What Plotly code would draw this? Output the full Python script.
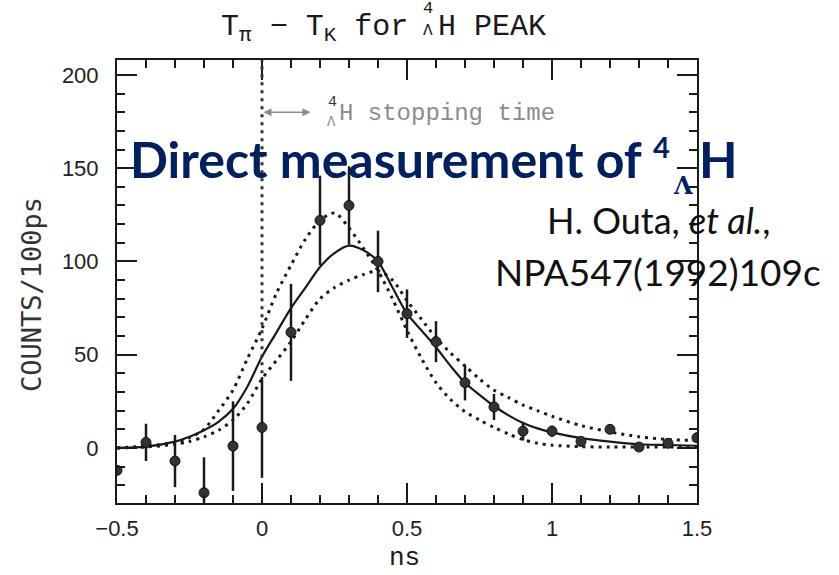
import plotly.graph_objects as go

# ---- measured T_pi - T_K spectrum (counts per 100 ps) ----
t_ns = [-0.5, -0.4, -0.3, -0.2, -0.1, 0.0, 0.1, 0.2, 0.3, 0.4, 0.5,
        0.6, 0.7, 0.8, 0.9, 1.0, 1.1, 1.2, 1.3, 1.4, 1.5]
counts = [-12, 3, -7, -24, 1, 11, 62, 122, 130, 100, 72,
          57, 35, 22, 9, 9, 3.5, 10, 0.5, 2.5, 5.5]
count_err = [0, 10, 14, 19, 24, 27, 26, 24, 21, 16.5, 13,
             11, 9.5, 7, 5, 3, 2, 0, 0, 0, 0]

# ---- curves: best fit (solid) and the two bounding shapes (dotted) ----
curve_t = [-0.5, -0.4, -0.3, -0.25, -0.2, -0.15, -0.1, -0.05, 0.0, 0.05,
           0.1, 0.15, 0.2, 0.25, 0.3, 0.35, 0.4, 0.45, 0.5, 0.55,
           0.6, 0.65, 0.7, 0.75, 0.8, 0.85, 0.9, 0.95, 1.0, 1.1,
           1.2, 1.3, 1.4, 1.5]
fit_counts = [0, 0.7, 3.4, 6, 9.5, 14, 21, 33, 49, 62,
              75, 86, 97, 104.5, 108.5, 106, 100, 86, 72, 63,
              54, 44, 35, 28.5, 22.5, 17.5, 13.4, 10.5, 8.4, 5.3,
              3.4, 2, 1.6, 1.2]
short_counts = [0, 1, 3, 5.5, 10, 20, 31, 48, 64, 83,
                98, 112, 122, 126, 118, 107, 95, 80, 63, 48,
                35, 26, 19.5, 15, 11, 7.5, 4.5, 2.5, 1.5, 0.7,
                0.5, 0.5, 0.5, 0.5]
long_counts = [0, 0.5, 2, 3.5, 6, 9.5, 15, 24, 37, 47,
               57, 69, 80, 86, 90, 93, 95, 90, 79, 69,
               59, 51, 44, 37, 31, 27, 23, 20, 17, 12,
               8.6, 6, 4.5, 4]

x_ticks = [-0.5, 0, 0.5, 1, 1.5]
y_ticks = [0, 50, 100, 150, 200]

INK = "#1a1a1a"
GREY = "#8c8c8c"
NAVY = "#002060"
TYPE = "Liberation Mono"

# plot frame in page pixels, used to place the free text
L, R, T, B = 117, 697, 60, 503
W, H = 839, 575


def fx(xp):
    return (xp - L) / (R - L)


def fy(yp):
    return (B - yp) / (B - T)


def label(xp, yp, text, font, xanchor="center", **kw):
    return dict(xref="paper", yref="paper", x=fx(xp), y=fy(yp), text=text,
                showarrow=False, xanchor=xanchor, yanchor="middle", font=font, **kw)


fig = go.Figure()

dots = "3px,5px"
fig.add_trace(go.Scatter(x=curve_t, y=short_counts, mode="lines",
                         line=dict(color=INK, width=3, dash=dots, shape="spline", smoothing=0.8),
                         hoverinfo="skip", showlegend=False))
fig.add_trace(go.Scatter(x=curve_t, y=long_counts, mode="lines",
                         line=dict(color=INK, width=3, dash=dots, shape="spline", smoothing=0.8),
                         hoverinfo="skip", showlegend=False))
fig.add_trace(go.Scatter(x=curve_t, y=fit_counts, mode="lines",
                         line=dict(color=INK, width=2.2, shape="spline", smoothing=0.8),
                         hoverinfo="skip", showlegend=False))
fig.add_trace(go.Scatter(x=t_ns, y=counts, mode="markers",
                         marker=dict(size=10, color="#333333", line=dict(color="#111111", width=1)),
                         error_y=dict(type="data", array=count_err, width=0, thickness=2.5, color=INK),
                         showlegend=False))

# t = 0 marker line
fig.add_shape(type="line", xref="x", yref="y", x0=0, x1=0, y0=40, y1=208,
              line=dict(color="#333333", width=3, dash=dots), layer="above")

ann = []
# stopping-time arrow and label
ann.append(dict(xref="x", yref="y", axref="x", ayref="y", x=0.167, y=180, ax=0.0, ay=180,
                text="", showarrow=True, arrowhead=2, startarrowhead=2, arrowside="end+start",
                arrowsize=1, arrowwidth=1.6, arrowcolor=GREY, standoff=0, startstandoff=0))
ann.append(label(332, 102, "4", dict(family=TYPE, size=15, color="#333333")))
ann.append(label(331, 122, "Λ", dict(family=TYPE, size=14, color=GREY)))
ann.append(label(337, 114, "H stopping time", dict(family=TYPE, size=24, color=GREY), xanchor="left"))

# chart title
tfont = dict(family=TYPE, size=30, color=INK)
ann.append(label(410, 29, "T<sub>π</sub> − T<sub>K</sub> for", tfont, xanchor="right"))
ann.append(label(428, 9, "4", dict(family=TYPE, size=17, color=INK)))
ann.append(label(428, 31, "Λ", dict(family=TYPE, size=16, color=INK)))
ann.append(label(436, 27, "H PEAK", tfont, xanchor="left"))

# axis titles
ann.append(label(31, 295, "COUNTS/100ps", dict(family="DejaVu Sans Mono", size=27, color="#333333"),
                 textangle=-90))
ann.append(label(404, 558, "ns", dict(family=TYPE, size=26, color=INK)))

# headline and reference
ann.append(label(128, 159, "<b>Direct measurement of</b>", dict(family="Lato", size=50, color=NAVY),
                 xanchor="left"))
ann.append(label(661, 146, "<b>4</b>", dict(family="Lato", size=29, color=NAVY)))
ann.append(label(683, 185, "<b>Λ</b>", dict(family="DejaVu Serif", size=24, color=NAVY)))
ann.append(label(697, 159, "<b>H</b>", dict(family="Lato", size=50, color=NAVY), xanchor="left"))
ann.append(label(658, 220, "H. Outa, <i>et al.</i>,", dict(family="Lato", size=36, color="#111111")))
ann.append(label(658, 271, "NPA547(1992)109c", dict(family="Lato", size=37, color="#111111")))

axis_common = dict(showgrid=False, zeroline=False, showline=True, linewidth=2, linecolor=INK,
                   mirror="ticks", ticks="inside", ticklen=20, tickwidth=2, tickcolor=INK,
                   tickfont=dict(family="Liberation Sans", size=22, color="#222222"))

fig.update_xaxes(range=[-0.5, 1.5], tickvals=x_ticks, ticklabelstandoff=5,
                 minor=dict(ticks="inside", ticklen=8, tickwidth=2, tickcolor=INK, dtick=0.1, tick0=0,
                            showgrid=False),
                 **axis_common)
fig.update_yaxes(range=[-29.5, 208], tickvals=y_ticks, ticklabelstandoff=12,
                 minor=dict(ticks="inside", ticklen=8, tickwidth=2, tickcolor=INK, dtick=10, tick0=0,
                            showgrid=False),
                 **axis_common)

fig.update_layout(width=W, height=H, margin=dict(l=L, r=W - R, t=T, b=H - B),
                  paper_bgcolor="white", plot_bgcolor="white", annotations=ann,
                  showlegend=False)

fig.write_html("out.html")
